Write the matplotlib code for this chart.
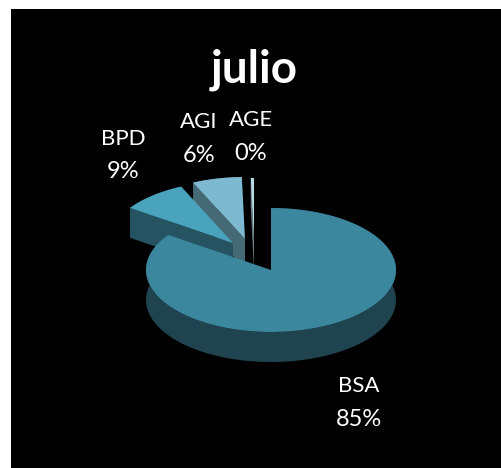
import numpy as np
import matplotlib
matplotlib.use("Agg")
import matplotlib.pyplot as plt
from matplotlib.patches import Polygon, Rectangle

plt.rcParams['font.family'] = ['Lato', 'DejaVu Sans']

# Datos del mes
title = "julio"
labels = ["BSA", "BPD", "AGI", "AGE"]
values = [84.6, 8.6, 6.4, 0.4]

# Colores de cada sector: cara superior, corte y borde
top_colors = ["#3b879d", "#49a3bc", "#7db9d0", "#b8dbe8"]
wall_colors = ["#1f444f", "#265361", "#456a75", "#6d7f86"]

# Centro de cada sector (separados como en un pastel 3D)
centers = [(271, 270), (233, 243), (245, 239), (254, 240)]
label_pos = [(359, 386), (123, 139), (199, 122), (251, 120)]
rx, ry = 125, 62
depth = 30

W, H = 501, 468
fig = plt.figure(figsize=(W / 100, H / 100), dpi=100, facecolor="white")
ax = fig.add_axes([0, 0, 1, 1])
ax.set_xlim(0, W)
ax.set_ylim(H, 0)
ax.axis("off")
ax.add_patch(Rectangle((11, 9), W - 11, H - 9, fc="black", ec="none"))


def arc(cx, cy, f0, f1):
    # las fracciones van en sentido horario desde las 12
    a = 2 * np.pi * np.linspace(f0, f1, 120)
    return np.column_stack([cx + rx * np.sin(a), cy - ry * np.cos(a)])


shares = np.array(values) / sum(values)
ends = np.cumsum(shares)
starts = ends - shares

# Se pinta de atrás hacia delante
for i in [3, 2, 1, 0]:
    cx, cy = centers[i]
    pts = arc(cx, cy, starts[i], ends[i])
    low = pts + [0, depth]
    rim = np.vstack([pts, low[::-1]])
    ax.add_patch(Polygon(rim, fc=wall_colors[i], ec="none"))
    if i > 0:
        # corte izquierdo visible
        p = pts[0]
        wall = [p, (cx, cy), (cx, cy + depth), p + [0, depth]]
        ax.add_patch(Polygon(wall, fc=wall_colors[i], ec="none"))
    top = np.vstack([[cx, cy], pts])
    ax.add_patch(Polygon(top, fc=top_colors[i], ec="none"))

for name, v, (x, y) in zip(labels, values, label_pos):
    ax.text(x, y, name, color="white", fontsize=16, ha="center", va="center")
    ax.text(x, y + 33, f"{round(v)}%", color="white", fontsize=17, ha="center", va="center")

ax.text(254.5, 70, title, color="white", fontsize=33, fontweight="bold", ha="center", va="center")

fig.savefig("out.png", dpi=100, facecolor="white")
